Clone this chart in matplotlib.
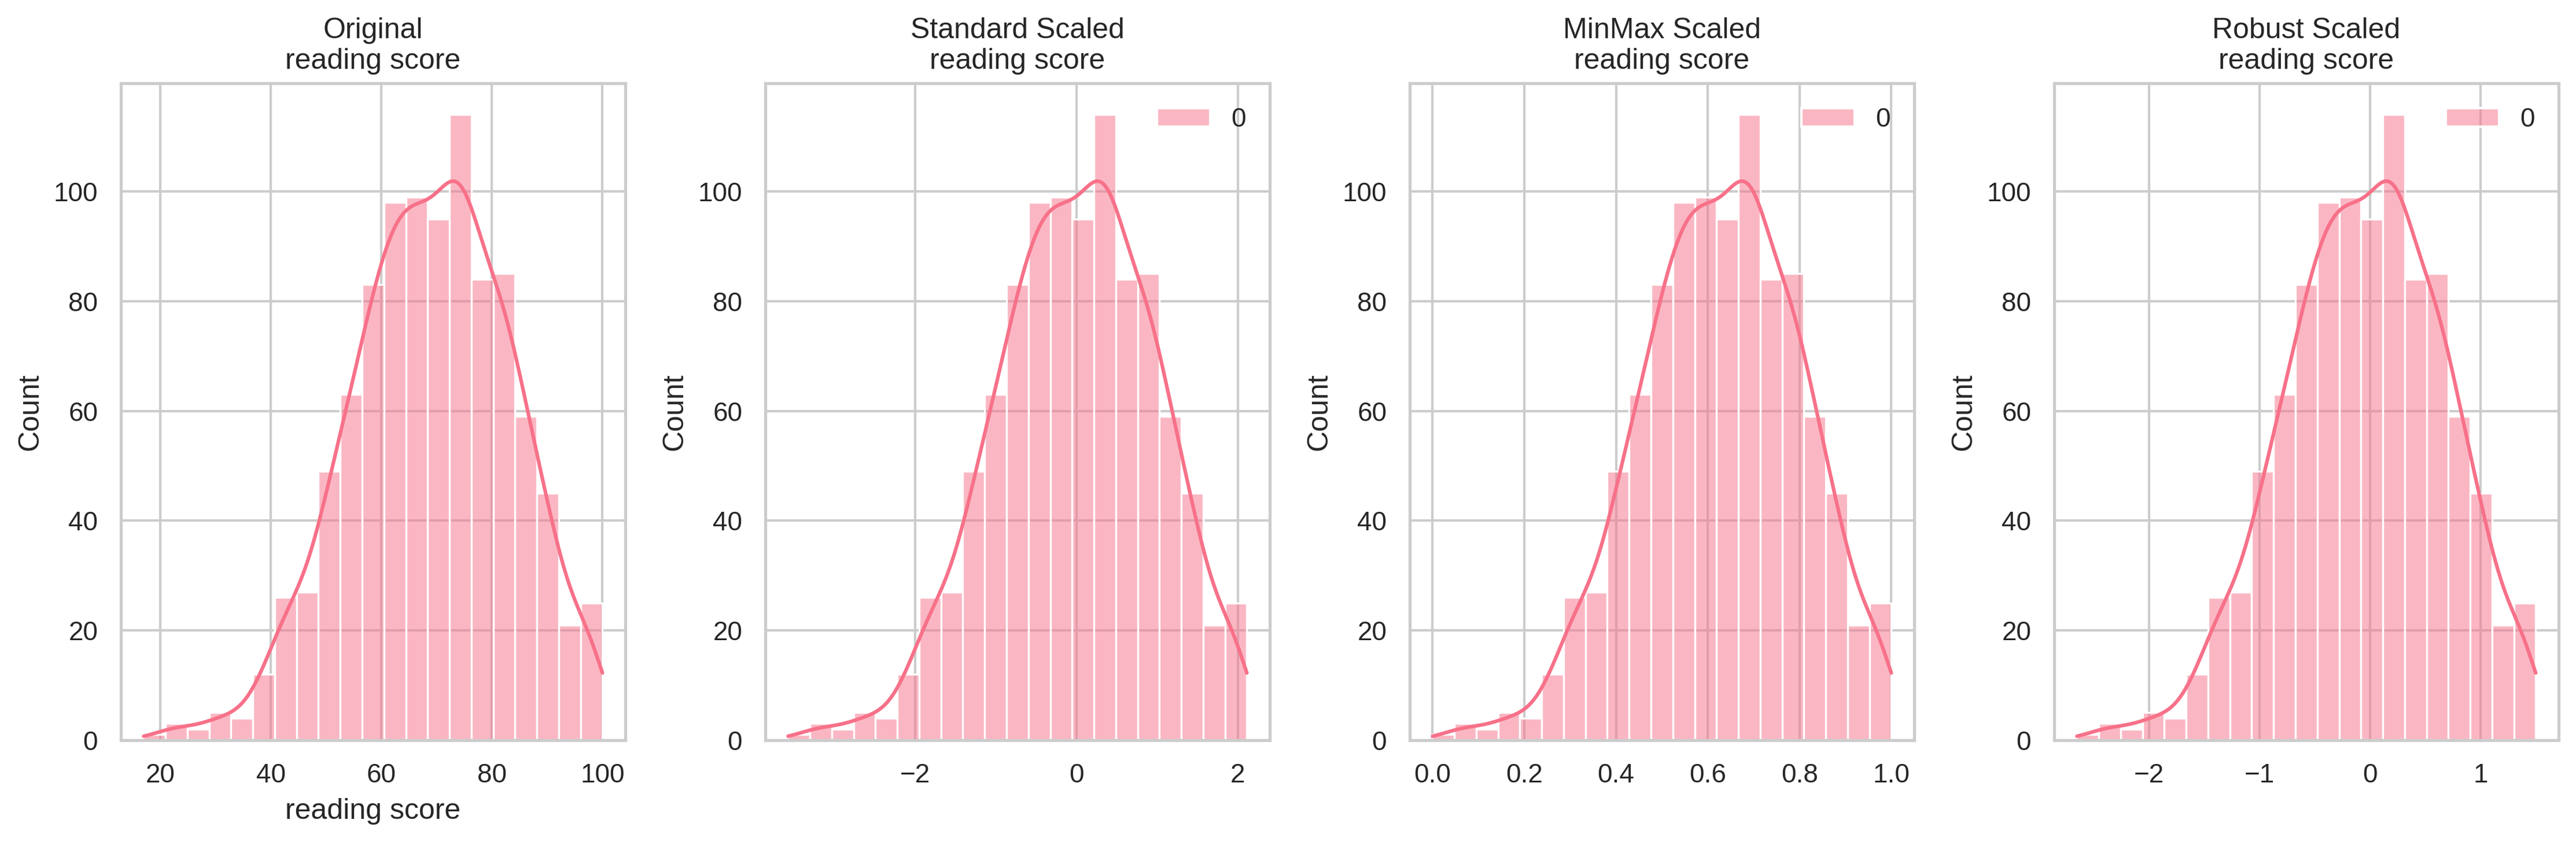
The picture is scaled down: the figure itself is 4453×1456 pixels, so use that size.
import matplotlib
matplotlib.use("Agg")
import matplotlib.pyplot as plt
import numpy as np
import pandas as pd
import seaborn as sns

# histogram counts of "reading score" (21 bins between min and max)
score_min = 17
score_max = 100
bin_counts = [1, 3, 2, 5, 4, 12, 26, 27, 49, 63, 83, 98, 99, 95, 114, 84, 85, 59, 45, 21, 25]

# scaler parameters for the column
score_mean = 69.169
score_std = 14.593
score_median = 70.0
score_iqr = 20.0

titles = ["Original", "Standard Scaled", "MinMax Scaled", "Robust Scaled"]
col = "reading score"

sns.set_theme(style="whitegrid")
sns.set_palette("husl")
plt.rcParams['font.family'] = ['Liberation Sans', 'DejaVu Sans']

edges = np.linspace(score_min, score_max, len(bin_counts) + 1)
centers = (edges[:-1] + edges[1:]) / 2
scores = np.repeat(centers, bin_counts)

scalers = [
    lambda v: v,
    lambda v: (v - score_mean) / score_std,
    lambda v: (v - score_min) / (score_max - score_min),
    lambda v: (v - score_median) / score_iqr,
]

fig, axes = plt.subplots(1, 4, figsize=(15, 5))

for i, (ax, f, t) in enumerate(zip(axes, scalers, titles)):
    lo, hi = f(score_min), f(score_max)
    kws = {'cut': 3, 'clip': (lo, hi), 'bw_adjust': 0.93}
    if i == 0:
        sns.histplot(pd.Series(scores, name=col), bins=f(edges), kde=True,
                     kde_kws=kws, ax=ax)
    else:
        sns.histplot(data=f(scores).reshape(-1, 1), bins=f(edges), kde=True,
                     kde_kws=kws, ax=ax)
        ax.get_legend().set_frame_on(False)
    ax.set_title(t + "\n" + col)

plt.tight_layout()
plt.savefig("out.png", dpi=300, bbox_inches="tight")
